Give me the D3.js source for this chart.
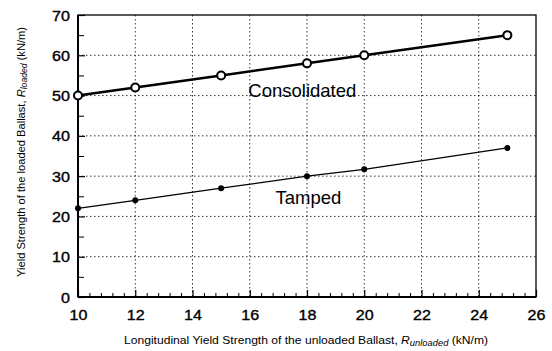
<!DOCTYPE html>
<html>
<head>
<meta charset="utf-8">
<script src="https://cdn.jsdelivr.net/npm/d3@7"></script>
<style>
body { margin: 0; background: #fff; }
text { font-family: "Liberation Sans", Arial, sans-serif; }
</style>
</head>
<body>
<div id="chart"></div>
<script>
var xTicks = [10, 12, 14, 16, 18, 20, 22, 24, 26];
var yTicks = [0, 10, 20, 30, 40, 50, 60, 70];
var strengths = [10, 12, 15, 18, 20, 25];
var consolidated = [50, 52, 55, 58, 60, 65];
var tamped = [22, 24, 27, 30, 31.7, 37];

var width = 552;
var height = 351;
var marginLeft = 78;
var marginTop = 15;
var marginRight = 16;
var marginBottom = 54;

var chartWidth = width - marginLeft - marginRight;
var chartHeight = height - marginTop - marginBottom;

var svg = d3.select("#chart").append("svg")
    .attr("width", width)
    .attr("height", height);

var chart = svg.append("g")
    .attr("transform", "translate(" + marginLeft + "," + marginTop + ")");

var xScale = d3.scaleLinear().domain([10, 26]).range([0, chartWidth]);
var yScale = d3.scaleLinear().domain([0, 70]).range([chartHeight, 0]);

// grid (dotted)
chart.append("g")
    .selectAll("line")
    .data(xTicks.slice(1, -1))
    .enter()
    .append("line")
        .attr("x1", function(d) { return xScale(d); })
        .attr("x2", function(d) { return xScale(d); })
        .attr("y1", 0)
        .attr("y2", chartHeight)
        .attr("stroke", "#000")
        .attr("stroke-width", 0.8)
        .attr("stroke-dasharray", "1.5,2.5");

chart.append("g")
    .selectAll("line")
    .data(yTicks.slice(1, -1))
    .enter()
    .append("line")
        .attr("x1", 0)
        .attr("x2", chartWidth)
        .attr("y1", function(d) { return yScale(d); })
        .attr("y2", function(d) { return yScale(d); })
        .attr("stroke", "#000")
        .attr("stroke-width", 0.8)
        .attr("stroke-dasharray", "1.5,2.5");

// axes
var xMinor = d3.range(10, 26.01, 0.4).filter(function(d) { return Math.abs(d / 2 - Math.round(d / 2)) > 0.01; });
var yMinor = d3.range(5, 70, 10);

var xAxis = d3.axisBottom(xScale).tickValues(xTicks).tickSize(-7).tickPadding(13).tickFormat(d3.format("d"));
var yAxis = d3.axisLeft(yScale).tickValues(yTicks).tickSize(-7).tickPadding(7).tickFormat(d3.format("d"));

var gx = chart.append("g")
    .attr("transform", "translate(0," + chartHeight + ")")
    .call(xAxis);
gx.selectAll("text")
    .style("font-size", "14px")
    .attr("fill", "#000")
    .attr("stroke", "#000")
    .attr("stroke-width", 0.35)
    .attr("transform", "scale(1.15,1)");

var gy = chart.append("g").call(yAxis);
gy.selectAll("text")
    .style("font-size", "14px")
    .attr("fill", "#000")
    .attr("stroke", "#000")
    .attr("stroke-width", 0.35)
    .attr("dy", "0.36em")
    .attr("transform", "scale(1.15,1)");

[gx, gy].forEach(function(g) {
    g.select(".domain").remove();
    g.selectAll("line").attr("stroke", "#000").attr("stroke-width", 1.2);
});

chart.append("g")
    .attr("transform", "translate(0," + chartHeight + ")")
    .call(d3.axisBottom(xScale).tickValues(xMinor).tickSize(-4).tickFormat(""))
    .call(function(g) { g.select(".domain").remove(); g.selectAll("line").attr("stroke-width", 1); });

chart.append("g")
    .call(d3.axisLeft(yScale).tickValues(yMinor).tickSize(-6).tickFormat(""))
    .call(function(g) { g.select(".domain").remove(); g.selectAll("line").attr("stroke-width", 1); });

// frame
chart.append("rect")
    .attr("width", chartWidth)
    .attr("height", chartHeight)
    .attr("fill", "none")
    .attr("stroke", "#000")
    .attr("stroke-width", 1.3);
chart.append("line")
    .attr("x1", 0).attr("x2", 0).attr("y1", 0).attr("y2", chartHeight)
    .attr("stroke", "#000").attr("stroke-width", 2);
chart.append("line")
    .attr("x1", 0).attr("x2", chartWidth).attr("y1", chartHeight).attr("y2", chartHeight)
    .attr("stroke", "#000").attr("stroke-width", 2);

// series
var line = d3.line()
    .x(function(d) { return xScale(d[0]); })
    .y(function(d) { return yScale(d[1]); });

var consData = d3.zip(strengths, consolidated);
var tampData = d3.zip(strengths, tamped);

chart.append("path")
    .datum(consData)
    .attr("d", line)
    .attr("fill", "none")
    .attr("stroke", "#000")
    .attr("stroke-width", 2.5);

chart.selectAll(".cons")
    .data(consData)
    .enter()
    .append("circle")
        .attr("class", "cons")
        .attr("cx", function(d) { return xScale(d[0]); })
        .attr("cy", function(d) { return yScale(d[1]); })
        .attr("r", 4)
        .attr("fill", "#fff")
        .attr("stroke", "#000")
        .attr("stroke-width", 2);

chart.append("path")
    .datum(tampData)
    .attr("d", line)
    .attr("fill", "none")
    .attr("stroke", "#000")
    .attr("stroke-width", 1.3);

chart.selectAll(".tamp")
    .data(tampData)
    .enter()
    .append("circle")
        .attr("class", "tamp")
        .attr("cx", function(d) { return xScale(d[0]); })
        .attr("cy", function(d) { return yScale(d[1]); })
        .attr("r", 3)
        .attr("fill", "#000");

// labels
chart.append("text")
    .attr("x", xScale(15.95))
    .attr("y", yScale(49.6))
    .style("font-size", "18.5px")
    .text("Consolidated");

chart.append("text")
    .attr("x", xScale(16.9))
    .attr("y", yScale(23))
    .style("font-size", "18.5px")
    .text("Tamped");

// axis titles
var xt = svg.append("text")
    .attr("x", 306)
    .attr("y", 344)
    .attr("text-anchor", "middle")
    .style("font-size", "11px")
    .attr("textLength", 364)
    .attr("lengthAdjust", "spacingAndGlyphs");
xt.append("tspan").text("Longitudinal Yield Strength of the unloaded Ballast, ");
xt.append("tspan").style("font-style", "italic").text("R");
xt.append("tspan").style("font-style", "italic").style("font-size", "8.5px").attr("dy", 2).text("unloaded");
xt.append("tspan").attr("dy", -2).text(" (kN/m)");

var yt = svg.append("text")
    .attr("transform", "translate(25,152) rotate(-90)")
    .attr("text-anchor", "middle")
    .style("font-size", "11px")
    .attr("textLength", 250)
    .attr("lengthAdjust", "spacingAndGlyphs");
yt.append("tspan").text("Yield Strength of the loaded Ballast, ");
yt.append("tspan").style("font-style", "italic").text("R");
yt.append("tspan").style("font-style", "italic").style("font-size", "8.5px").attr("dy", 2).text("loaded");
yt.append("tspan").attr("dy", -2).text(" (kN/m)");
</script>
</body>
</html>
